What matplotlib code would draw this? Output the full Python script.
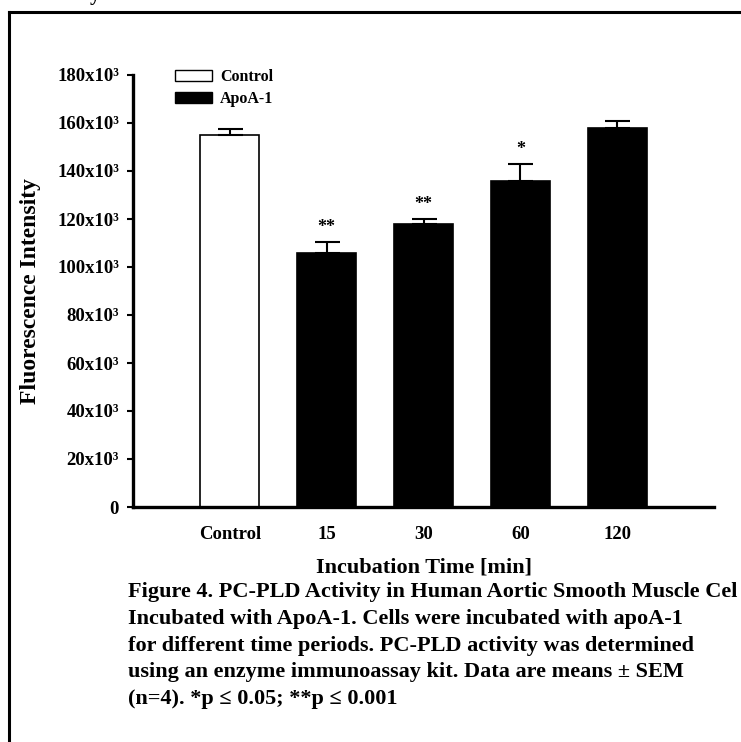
import matplotlib
matplotlib.use("Agg")
import matplotlib.pyplot as plt
from matplotlib.lines import Line2D
from matplotlib.patches import Patch

plt.rcParams['font.family'] = ['Liberation Serif', 'DejaVu Serif']
plt.rcParams['font.weight'] = 'bold'

# ---- data ----
categories = ["Control", "15", "30", "60", "120"]
means = [155000, 106000, 118000, 136000, 158000]
sems = [2500, 4500, 2000, 7000, 3000]
groups = ["Control", "ApoA-1", "ApoA-1", "ApoA-1", "ApoA-1"]
significance = ["", "**", "**", "*", ""]
y_ticks = [0, 20000, 40000, 60000, 80000, 100000, 120000, 140000, 160000, 180000]
y_tick_labels = ["0", "20x10³", "40x10³", "60x10³", "80x10³", "100x10³",
                 "120x10³", "140x10³", "160x10³", "180x10³"]
x_label = "Incubation Time [min]"
y_label = "Fluorescence Intensity"
caption = ("Figure 4. PC-PLD Activity in Human Aortic Smooth Muscle Cel\n"
           "Incubated with ApoA-1. Cells were incubated with apoA-1\n"
           "for different time periods. PC-PLD activity was determined\n"
           "using an enzyme immunoassay kit. Data are means ± SEM\n"
           "(n=4). *p ≤ 0.05; **p ≤ 0.001")

W, H = 741, 742
fig = plt.figure(figsize=(W / 100, H / 100), dpi=100)
ax = fig.add_axes([133 / W, 1 - 507 / H, (714 - 133) / W, (507 - 75) / H])

fill = {"Control": "white", "ApoA-1": "black"}
x = list(range(1, len(categories) + 1))
colors = [fill[g] for g in groups]
ax.bar(x, means, width=0.61, color=colors, edgecolor="black", linewidth=1.2, zorder=2)
ax.errorbar(x, means, yerr=[[0] * len(sems), sems], fmt="none", ecolor="black",
            elinewidth=1.5, capsize=9, capthick=1.5, zorder=3)
for xi, m, s, sig in zip(x, means, sems, significance):
    if sig:
        ax.text(xi, m + s + 4200, sig, ha="center", va="baseline",
                fontsize=13, fontweight="bold")

ax.set_xlim(0, 6)
ax.set_ylim(0, 180000)
ax.set_yticks(y_ticks)
ax.set_yticklabels(y_tick_labels, fontsize=13.5, fontweight="bold")
ax.set_xticks(x)
ax.set_xticklabels(categories, fontsize=13.5, fontweight="bold")
ax.tick_params(axis="x", length=0, pad=14)
ax.tick_params(axis="y", direction="out", length=4, width=1.5, pad=6)
for s in ["top", "right"]:
    ax.spines[s].set_visible(False)
for s in ["left", "bottom"]:
    ax.spines[s].set_linewidth(2.4)
ax.set_xlabel(x_label, fontsize=16, fontweight="bold", labelpad=10)
ax.set_ylabel(y_label, fontsize=17, fontweight="bold", labelpad=12)

handles = [Patch(facecolor="white", edgecolor="black", linewidth=1.0, label="Control"),
           Patch(facecolor="black", edgecolor="black", label="ApoA-1")]
fig.legend(handles=handles, loc="upper left", bbox_to_anchor=(161 / W, 1 - 55 / H),
           frameon=False, handlelength=2.3, handleheight=0.7,
           handletextpad=0.5, labelspacing=0.35, prop={"weight": "bold", "size": 11.5})

fig.text(128 / W, 1 - 582 / H, caption, ha="left", va="top", fontsize=16,
         fontweight="bold", linespacing=1.45)

# page frame
fig.add_artist(Line2D([8.5 / W, 8.5 / W], [0, 1 - 12 / H], transform=fig.transFigure,
                      color="black", linewidth=2.2))
fig.add_artist(Line2D([8.5 / W, 1], [1 - 12 / H, 1 - 12 / H], transform=fig.transFigure,
                      color="black", linewidth=2.2))
fig.text(95 / W, 1.0, "y", ha="center", va="baseline", fontsize=15, fontweight="bold")

fig.savefig("out.png", dpi=100)
